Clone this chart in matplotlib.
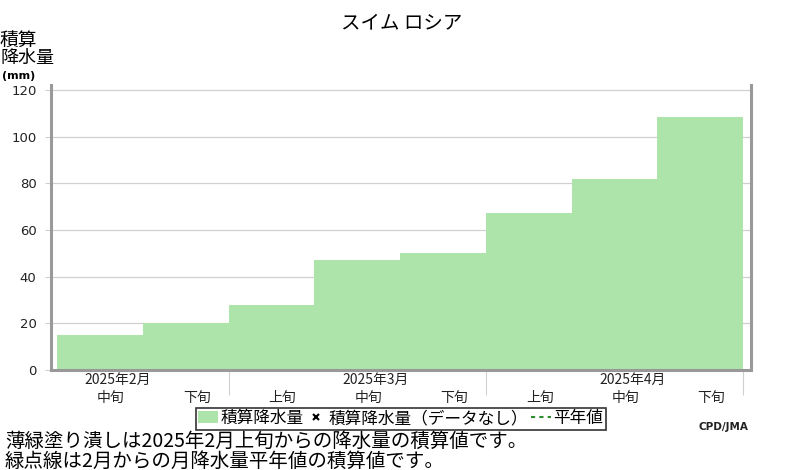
import matplotlib
matplotlib.use("Agg")
import matplotlib.pyplot as plt
from matplotlib.patches import Patch
from matplotlib.lines import Line2D

plt.rcParams["font.family"] = ["Noto Sans CJK JP", "DejaVu Sans"]

# data
decades = ["中旬", "下旬", "上旬", "中旬", "下旬", "上旬", "中旬", "下旬"]
months = ["2025年2月", "2025年3月", "2025年4月"]
month_pos = [0, 3, 6]
cum_precip = [15.0, 20.0, 27.8, 47.0, 50.0, 67.2, 81.8, 108.3]
yticks = [0, 20, 40, 60, 80, 100, 120]

BAR_COLOR = "#ace4aa"
SPINE_COLOR = "#999999"
GRID_COLOR = "#d0d0d0"

fig = plt.figure(figsize=(8, 4.7), dpi=100)
ax = fig.add_axes([50.5 / 800, 100 / 470, 700 / 800, 285 / 470])

x = list(range(len(cum_precip)))
ax.bar(x, cum_precip, width=1.0, align="edge", color=BAR_COLOR,
       edgecolor="none", zorder=2)

ax.set_xlim(-0.076, 8.087)
ax.set_ylim(0, 122.1)

# spines
ax.spines["top"].set_visible(False)
for side in ["left", "right", "bottom"]:
    ax.spines[side].set_color(SPINE_COLOR)
    ax.spines[side].set_linewidth(2.2)
    ax.spines[side].set_zorder(3)

# y axis
ax.set_yticks(yticks)
ax.set_yticklabels([str(v) for v in yticks], fontsize=9.5, color="#222222",
                   family="DejaVu Sans")
ax.tick_params(axis="y", length=4, width=0.8, color=GRID_COLOR, pad=6)
ax.yaxis.grid(True, color=GRID_COLOR, linewidth=0.9, zorder=1)
ax.set_axisbelow(True)

# x axis: month separators as long ticks, labels drawn as text
ax.set_xticks([2, 5, 8])
ax.set_xticklabels([])
ax.tick_params(axis="x", length=18, width=0.8, color=GRID_COLOR)

trans = ax.get_xaxis_transform()
for i, lab in enumerate(decades):
    ax.text(i + 0.63, -0.097, lab, transform=trans, ha="center", va="center",
            fontsize=10, color="#222222")
for p, lab in zip(month_pos, months):
    ax.text(p + 0.71, -0.036, lab, transform=trans, ha="center", va="center",
            fontsize=10, color="#222222")

# title and y label
fig.text(402 / 800, 1 - 23 / 470, "スイム ロシア", ha="center", va="center",
         fontsize=14)
fig.text(0, 1 - 40 / 470, "積算", ha="left", va="center", fontsize=13.5)
fig.text(0, 1 - 58 / 470, "降水量", ha="left", va="center", fontsize=13)
fig.text(0.002, 1 - 76 / 470, "(mm)", ha="left", va="center", fontsize=8,
         weight="bold", family="DejaVu Sans")

# legend
handles = [
    Patch(facecolor=BAR_COLOR, edgecolor="none"),
    Line2D([], [], marker="x", color="black", linestyle="none",
           markersize=4, markeredgewidth=1.5),
    Line2D([], [], color="#2e8b2e", linestyle=(0, (2, 2)), linewidth=1.5),
]
labels = ["積算降水量", "積算降水量（データなし）", "平年値"]
leg = fig.legend(handles, labels, loc="center", ncol=3,
                 bbox_to_anchor=(400.5 / 800, 1 - 418.5 / 470),
                 fontsize=12, frameon=True, fancybox=False, edgecolor="black",
                 handlelength=1.2, handletextpad=0.15, columnspacing=0.15,
                 borderpad=0.15, borderaxespad=0)
leg.get_frame().set_linewidth(1.2)

fig.text(748 / 800, 1 - 427 / 470, "CPD/JMA", ha="right", va="center",
         fontsize=7.5, weight="bold", family="DejaVu Sans", color="#222222")

# notes
fig.text(5 / 800, 1 - 441 / 470, "薄緑塗り潰しは2025年2月上旬からの降水量の積算値です。",
         ha="left", va="center", fontsize=14)
fig.text(5 / 800, 1 - 461 / 470, "緑点線は2月からの月降水量平年値の積算値です。",
         ha="left", va="center", fontsize=14)

fig.savefig("out.png", dpi=100)
